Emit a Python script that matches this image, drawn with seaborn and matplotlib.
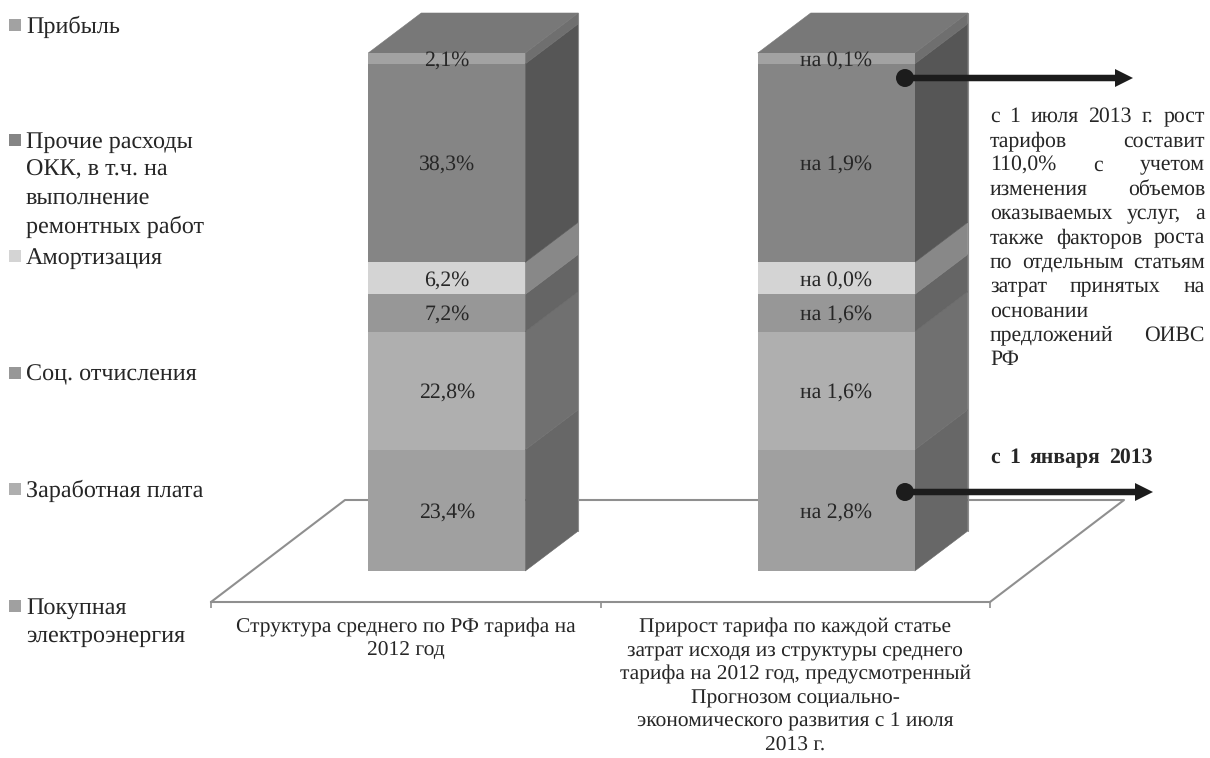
import pandas as pd
import seaborn as sns
import matplotlib.pyplot as plt
from matplotlib.patches import Polygon, Rectangle, Circle

# Tariff structure, bottom segment first
items = ['Покупная\nэлектроэнергия', 'Заработная плата', 'Соц. отчисления', 'Амортизация',
         'Прочие расходы\nОКК, в т.ч. на\nвыполнение\nремонтных работ', 'Прибыль']
shares = [23.4, 22.8, 7.2, 6.2, 38.3, 2.1]
labels_2012 = ['23,4%', '22,8%', '7,2%', '6,2%', '38,3%', '2,1%']
labels_growth = ['на 2,8%', 'на 1,6%', 'на 1,6%', 'на 0,0%', 'на 1,9%', 'на 0,1%']
columns = ['Структура среднего по РФ тарифа на\n2012 год',
           'Прирост тарифа по каждой статье\nзатрат исходя из структуры среднего\n'
           'тарифа на 2012 год, предусмотренный\nПрогнозом социально-\n'
           'экономического развития с 1 июля\n2013 г.']

front_colors = ['#a0a0a0', '#afafaf', '#979797', '#d4d4d4', '#858585', '#a2a2a2']
side_colors = ['#676767', '#707070', '#656565', '#888888', '#565656', '#6f6f6f']
top_color = '#787878'
text_color = '#262626'
line_color = '#8f8f8f'

sns.set_theme(style='white')
plt.rcParams['font.family'] = ['Liberation Serif', 'DejaVu Sans']
plt.rcParams['text.hinting'] = 'no_hinting'
FONT = 15.7
FONT_TICK = 15.45
FONT_LEGEND = 17.4
FONT_NOTE = 15.7

W, H = 1210, 758
fig = plt.figure(figsize=(W / 100, H / 100), dpi=100)

# Main axes: x runs between the outer floor ticks, y = 0 sits on the front floor edge
PX_PER_PCT = 5.18
PX_PER_CAT = 389.5
ax = fig.add_axes([211 / W, (H - 602) / H, 779 / W, 602 / H])


def dx(px):
    return px / PX_PER_CAT


def dy(px):
    return px / PX_PER_PCT


# Stacked bars, one barplot call per cost item
bottom = 0
for share, color in zip(shares, front_colors):
    seg = pd.DataFrame({'column': columns, 'share': [share, share]})
    sns.barplot(data=seg, x='column', y='share', order=columns, color=color, saturation=1,
                width=dx(157), bottom=bottom, errorbar=None, linewidth=0, ax=ax, zorder=3)
    bottom += share

ax.set_xlim(-0.5, 1.5)
ax.set_ylim(0, dy(602))

# Bars stand a bit behind the front edge of the floor
for bar in ax.patches:
    bar.set_x(bar.get_x() + dx(41))
    bar.set_y(bar.get_y() + dy(31))
    bar.set_clip_on(False)

# Fake 3D: side and top faces built from the bars
depth_x, depth_y = dx(53), dy(40)
bars = list(ax.patches)
for i, bar in enumerate(bars):
    x1 = bar.get_x() + bar.get_width()
    y0, y1 = bar.get_y(), bar.get_y() + bar.get_height()
    side = [(x1, y0), (x1 + depth_x, y0 + depth_y), (x1 + depth_x, y1 + depth_y), (x1, y1)]
    ax.add_patch(Polygon(side, facecolor=side_colors[i // 2], edgecolor=side_colors[i // 2],
                         lw=0.4, zorder=2, clip_on=False))
    if i // 2 == len(shares) - 1:
        x0 = bar.get_x()
        top = [(x0, y1), (x1, y1), (x1 + depth_x, y1 + depth_y), (x0 + depth_x, y1 + depth_y)]
        ax.add_patch(Polygon(top, facecolor=top_color, edgecolor=top_color,
                             lw=0.4, zorder=2, clip_on=False))
        # thin light edge along the back of each column
        ax.plot([x1 + depth_x] * 2, [dy(31) + depth_y, y1 + depth_y], color='#8c8c8c', lw=0.8,
                zorder=2.5, clip_on=False)

# Floor, back part is hidden by the bars
floor_x, floor_y = dx(134), dy(102)
ax.plot([-0.5, -0.5 + floor_x, 1.5 + floor_x, 1.5], [0, floor_y, floor_y, 0],
        color=line_color, lw=1.5, zorder=1, clip_on=False)

# Value labels, on a common baseline offset so they do not jump with the glyph heights
for i, bar in enumerate(bars):
    seg_i = i // 2
    texts = labels_2012 if i % 2 == 0 else labels_growth
    ax.text(bar.get_x() + bar.get_width() / 2, bar.get_y() + bar.get_height() / 2 - dy(8), texts[seg_i],
            ha='center', va='baseline', fontsize=FONT, color=text_color, zorder=5)

# Axis: labels under category centres, ticks on the boundaries
sns.despine(ax=ax, left=True)
ax.spines['bottom'].set_color(line_color)
ax.spines['bottom'].set_linewidth(1.5)
ax.set_xlabel('')
ax.set_ylabel('')
ax.set_yticks([])
ax.set_xticks([0, 1])
ax.set_xticklabels(columns, fontsize=FONT_TICK, color=text_color, linespacing=1.31)
ax.set_xticks([-0.5, 0.5, 1.5], minor=True)
ax.tick_params(axis='x', which='major', length=0, pad=11.5)
ax.tick_params(axis='x', which='minor', length=4, width=1.2, color=line_color, bottom=True)
ax.patch.set_visible(False)

# Overlay in pixel coordinates for the legend and the notes
over = fig.add_axes([0, 0, 1, 1], zorder=10)
over.set_xlim(0, W)
over.set_ylim(H, 0)
over.axis('off')

legend_y = [607, 490, 374, 257, 141, 26]
for item, color, y in zip(items, front_colors, legend_y):
    over.add_patch(Rectangle((9, y - 7), 12, 12, color=color, lw=0))
    over.text(26, y - 10, item, ha='left', va='top', fontsize=FONT_LEGEND, color=text_color, linespacing=1.38)

# Arrows with a dot at the start
for y, x_end in [(78, 1133), (492, 1153)]:
    over.add_patch(Circle((905, y), 9, color='#1c1c1c', lw=0))
    over.arrow(905, y, x_end - 905, 0, width=6.5, head_width=18, head_length=18,
               length_includes_head=True, color='#1c1c1c', lw=0)


def justified(words, y, left, right=None, **kws):
    # spread the words between left and right, like a justified paragraph
    arts = [over.text(left, y, w, ha='left', va='baseline', fontsize=FONT_NOTE, color=text_color, **kws)
            for w in words]
    if right is None or len(words) < 2:
        return
    rend = fig.canvas.get_renderer()
    widths = [a.get_window_extent(rend).width for a in arts]
    gap = (right - left - sum(widths)) / (len(words) - 1)
    x = left
    for a, w in zip(arts, widths):
        a.set_x(x)
        x += w + gap


note_lines = ['с 1 июля 2013 г. рост', 'тарифов составит', '110,0% с учетом', 'изменения объемов',
              'оказываемых услуг, а', 'также факторов роста', 'по отдельным статьям',
              'затрат принятых на', 'основании', 'предложений ОИВС', 'РФ']
for k, line in enumerate(note_lines):
    justified(line.split(), 122 + 24.3 * k, 990, 1205)

justified(['с', '1', 'января', '2013'], 463, 990, 1153, fontweight='bold')

fig.savefig('out.png', dpi=100)
